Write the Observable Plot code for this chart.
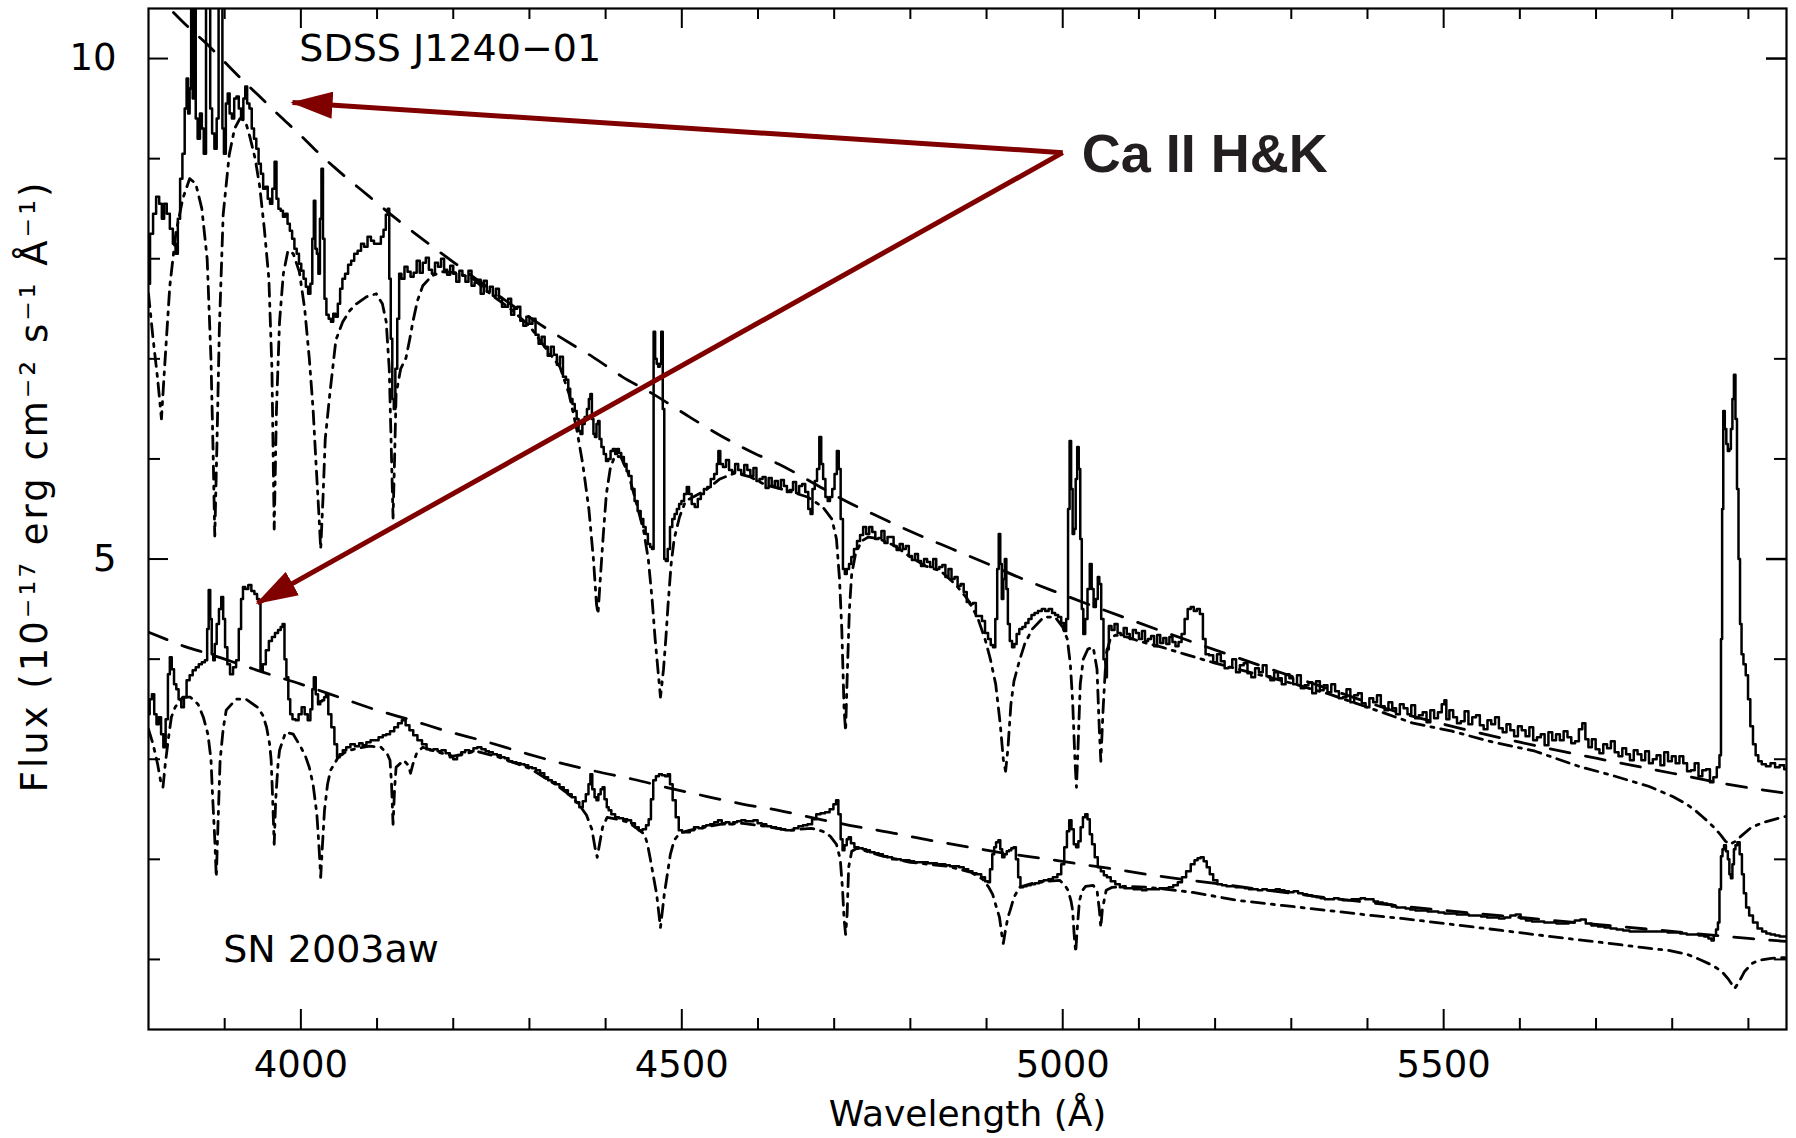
<!DOCTYPE html>
<html>
<head>
<meta charset="utf-8">
<script src="https://cdn.jsdelivr.net/npm/d3@7"></script>
<script src="https://cdn.jsdelivr.net/npm/@observablehq/plot@0.6"></script>
<style>
  html, body { margin: 0; padding: 0; background: #ffffff; }
  #chart { width: 1796px; height: 1138px; }
</style>
</head>
<body>
<div id="chart"></div>
<script>
// ---------------- tick values ----------------
const xTicksMajor = [4000, 4500, 5000, 5500];
const xTicksMinor = [3900, 4100, 4200, 4300, 4400, 4600, 4700, 4800, 4900, 5100, 5200, 5300, 5400, 5600, 5700, 5800, 5900];
const yTicksMajor = [5, 10];
const yTicksMinor = [1, 2, 3, 4, 6, 7, 8, 9];

// ---------------- series: [wavelength (Å), flux] ----------------
// SDSS J1240-01 observed spectrum (solid)
const sdssObserved = [
[3800,7.75],[3804,8.25],[3808,8.45],[3812,8.62],[3816,8.55],[3819,8.40],[3822,8.55],[3826,8.45],[3830,8.30],[3834,8.15],
[3837,8.05],[3840,8.40],[3843,8.80],[3846,9.05],[3849,9.50],[3851,9.80],[3853,9.45],[3855,9.70],[3857,10.6],[3859,9.60],
[3861,10.6],[3863,9.40],[3866,9.20],[3869,9.45],[3871,9.30],[3874,9.05],[3877,10.6],[3880,10.6],[3882,9.50],[3885,9.25],
[3888,9.10],[3891,9.40],[3893,10.6],[3896,10.6],[3898,9.30],[3900,9.05],[3903,9.55],[3905,9.65],[3908,9.45],[3911,9.40],
[3914,9.60],[3917,9.62],[3920,9.50],[3923,9.40],[3926,9.60],[3928,9.72],[3931,9.55],[3934,9.50],[3937,9.30],[3940,9.20],
[3943,9.10],[3946,8.95],[3949,8.85],[3952,8.70],[3955,8.72],[3958,8.60],[3961,8.55],[3964,8.70],[3967,8.97],[3969,8.60],
[3972,8.50],[3975,8.48],[3978,8.42],[3981,8.45],[3984,8.35],[3987,8.28],[3990,8.20],[3993,8.10],[3996,8.05],[3999,7.95],
[4002,7.88],[4005,7.80],[4008,7.72],[4011,7.65],[4014,7.75],[4016,8.20],[4018,8.58],[4020,8.10],[4022,8.05],[4024,7.85],
[4026,8.40],[4028,8.90],[4030,8.20],[4032,7.60],[4035,7.44],[4038,7.40],[4041,7.37],[4044,7.45],[4047,7.42],[4050,7.55],
[4053,7.70],[4056,7.80],[4060,7.85],[4064,7.94],[4068,7.98],[4072,8.05],[4077,8.08],[4081,8.15],[4085,8.12],[4090,8.22],
[4094,8.18],[4098,8.15],[4103,8.15],[4107,8.22],[4110,8.29],[4113,8.44],[4115,8.50],[4117,7.80],[4119,7.20],[4121,6.60],
[4123,6.50],[4125,6.90],[4128,7.40],[4130,7.85],[4134,7.80],[4138,7.92],[4142,7.87],[4146,7.82],[4150,7.86],[4154,7.98],
[4158,7.86],[4162,7.96],[4166,8.01],[4170,7.89],[4174,7.85],[4178,7.96],[4182,7.92],[4186,8.00],[4190,7.89],[4194,7.84],
[4198,7.93],[4202,7.85],[4206,7.77],[4210,7.88],[4214,7.83],[4218,7.77],[4222,7.88],[4226,7.73],[4230,7.76],[4234,7.79],
[4238,7.65],[4242,7.78],[4246,7.67],[4250,7.72],[4254,7.63],[4258,7.70],[4262,7.61],[4266,7.52],[4270,7.52],[4274,7.60],
[4278,7.44],[4282,7.50],[4286,7.52],[4290,7.38],[4294,7.33],[4298,7.42],[4302,7.35],[4306,7.40],[4310,7.24],[4314,7.15],
[4318,7.22],[4322,7.12],[4326,7.03],[4330,7.12],[4334,7.04],[4338,6.94],[4342,7.02],[4346,6.82],[4350,6.79],[4352,6.70],
[4355,6.60],[4358,6.55],[4361,6.48],[4363,6.40],
[4366,6.28],[4368,6.25],[4371,6.35],[4374,6.42],[4377,6.50],[4379,6.60],[4381,6.65],[4383,6.40],[4385,6.25],[4387,6.22],
[4389,6.35],[4391,6.38],[4393,6.20],[4396,6.12],[4399,6.05],[4402,5.98],[4405,6.00],[4408,6.08],[4411,6.10],[4414,6.05],
[4416,6.10],[4419,6.06],[4422,6.02],[4426,5.95],[4429,5.88],[4432,5.83],[4436,5.70],[4440,5.58],[4444,5.48],[4448,5.40],
[4451,5.32],[4454,5.25],[4457,5.15],[4460,5.12],[4462,5.10],[4464,7.27],[4466,7.00],[4468,6.95],[4470,6.92],[4472,6.95],
[4474,7.27],[4476,6.50],[4478,5.00],[4480,4.98],[4483,5.10],[4486,5.32],[4489,5.40],[4492,5.45],[4495,5.50],[4498,5.55],
[4501,5.58],[4505,5.65],[4508,5.72],[4511,5.65],[4515,5.55],[4519,5.52],[4523,5.60],[4527,5.65],[4531,5.70],[4536,5.72],
[4540,5.80],[4545,5.85],[4547,5.95],[4549,6.08],[4552,5.95],[4556,5.92],[4560,5.99],[4564,5.89],[4568,5.87],[4572,5.95],
[4576,5.89],[4580,5.85],[4584,5.94],[4588,5.89],[4592,5.83],[4596,5.91],[4600,5.78],[4604,5.80],[4608,5.82],[4612,5.71],
[4616,5.81],[4620,5.73],[4624,5.78],[4628,5.71],[4632,5.79],[4636,5.73],[4640,5.67],[4644,5.69],[4648,5.77],[4652,5.66],
[4656,5.73],[4660,5.75],[4664,5.67],
[4668,5.50],[4670,5.45],[4673,5.70],[4676,5.78],[4679,5.90],[4682,6.22],[4684,5.95],[4687,5.80],[4690,5.62],
[4693,5.58],[4696,5.62],[4699,5.70],[4702,5.85],[4705,6.08],[4707,5.90],[4710,5.40],[4713,4.90],[4715,4.85],[4718,4.90],
[4721,4.95],[4724,5.02],[4728,5.10],[4732,5.18],[4736,5.24],[4740,5.32],[4744,5.25],[4748,5.32],[4752,5.27],[4756,5.20],
[4760,5.21],[4764,5.28],[4768,5.16],[4772,5.22],[4776,5.22],[4780,5.13],[4784,5.09],[4788,5.15],[4792,5.10],[4796,5.13],
[4800,5.03],[4804,4.99],[4808,5.05],[4812,4.98],[4816,4.93],[4820,5.00],[4824,4.97],[4828,4.92],[4832,5.00],[4836,4.90],
[4840,4.92],[4844,4.94],[4848,4.82],[4852,4.90],[4856,4.80],[4860,4.82],[4864,4.73],[4868,4.75],[4872,4.67],[4876,4.57],
[4880,4.55],[4884,4.56],[4888,4.43],[4892,4.43],[4896,4.38],[4900,4.26],
[4904,4.20],[4907,4.14],[4910,4.12],[4913,4.40],[4915,4.90],[4917,5.25],[4919,4.95],[4921,4.60],
[4923,4.80],[4925,5.00],[4927,4.70],[4929,4.35],[4932,4.18],[4935,4.12],[4938,4.15],[4941,4.25],[4945,4.30],[4949,4.32],
[4953,4.36],[4957,4.40],[4961,4.44],[4965,4.46],[4970,4.48],[4975,4.50],[4979,4.48],[4984,4.50],[4988,4.46],[4992,4.44],
[4996,4.42],[5000,4.36],[5003,4.28],[5006,4.40],[5008,5.50],[5010,6.18],[5012,5.70],[5014,5.25],[5016,5.30],[5018,5.80],
[5020,6.12],[5022,5.90],[5024,5.20],[5026,4.50],[5028,4.25],[5031,4.40],[5034,4.70],[5037,4.95],[5039,4.70],[5042,4.52],
[5045,4.60],[5047,4.82],[5049,4.75],[5052,4.40],[5055,4.00],[5057,3.82],[5059,4.10],[5062,4.33],[5066,4.29],[5070,4.35],
[5074,4.26],[5078,4.24],[5082,4.31],[5086,4.25],[5090,4.20],[5094,4.29],[5098,4.26],[5102,4.20],[5106,4.28],[5110,4.18],
[5114,4.20],[5118,4.23],[5122,4.13],[5126,4.24],[5130,4.16],[5134,4.21],[5138,4.15],[5142,4.22],[5146,4.17],[5150,4.13],
[5154,4.17],[5158,4.25],
[5162,4.40],[5166,4.50],[5170,4.52],[5174,4.48],[5178,4.50],[5182,4.45],[5186,4.20],[5189,4.05],
[5195,4.04],[5200,3.97],[5205,4.05],[5210,3.98],[5215,3.91],[5220,3.92],[5225,4.00],[5230,3.87],[5235,3.94],[5240,3.96],
[5245,3.86],[5250,3.82],[5255,3.91],[5260,3.87],[5265,3.94],[5270,3.83],[5275,3.79],[5280,3.87],[5285,3.81],[5290,3.75],
[5295,3.85],[5300,3.81],[5305,3.75],[5310,3.84],[5315,3.71],[5320,3.74],[5325,3.77],[5330,3.66],[5335,3.78],[5340,3.69],
[5345,3.74],[5350,3.67],[5355,3.75],[5360,3.68],[5365,3.61],[5370,3.62],[5375,3.70],[5380,3.57],[5385,3.64],[5390,3.66],
[5395,3.56],[5400,3.52],[5405,3.61],[5410,3.57],[5415,3.64],[5420,3.53],[5425,3.49],[5430,3.57],[5435,3.51],[5440,3.45],
[5445,3.55],[5450,3.51],[5455,3.45],[5460,3.54],[5465,3.41],[5470,3.44],[5475,3.47],[5480,3.37],[5485,3.49],[5490,3.41],
[5495,3.47],[5500,3.55],[5502,3.59],[5505,3.40],[5510,3.49],[5515,3.42],[5520,3.36],[5525,3.38],[5530,3.48],[5535,3.35],
[5540,3.42],[5545,3.44],[5550,3.34],[5555,3.30],[5560,3.39],[5565,3.35],[5570,3.42],[5575,3.31],[5580,3.27],[5585,3.35],
[5590,3.29],[5595,3.23],[5600,3.33],[5605,3.29],[5610,3.23],[5615,3.32],[5620,3.19],[5625,3.22],[5630,3.25],[5635,3.14],
[5640,3.27],[5645,3.19],[5650,3.25],[5655,3.19],[5660,3.28],[5665,3.22],[5670,3.16],[5675,3.18],[5680,3.30],[5684,3.36],
[5688,3.20],[5692,3.12],[5697,3.20],[5702,3.10],[5707,3.06],[5712,3.15],[5717,3.11],[5722,3.18],[5727,3.07],[5732,3.03],
[5737,3.11],[5742,3.05],[5747,2.99],[5752,3.09],[5757,3.05],[5762,2.99],[5767,3.08],[5772,2.96],[5777,3.00],[5782,3.04],
[5787,2.94],[5792,3.07],[5797,2.98],[5802,3.03],[5807,2.96],[5812,3.03],[5817,2.96],[5822,2.88],[5827,2.89],[5832,2.96],
[5837,2.83],[5842,2.89],[5847,2.90],[5852,2.77],[5856,2.82],
[5861,2.92],[5863,3.04],
[5865,4.20],[5866,5.50],[5868,6.48],[5870,6.30],[5872,6.15],[5874,6.08],[5876,6.10],[5878,6.30],[5880,6.60],[5882,6.84],
[5884,6.40],[5886,5.70],[5888,5.00],[5890,4.35],[5892,4.05],[5895,3.95],[5898,3.84],[5901,3.60],[5904,3.33],[5908,3.15],
[5911,3.04],[5915,2.98],[5920,2.95],[5926,2.93],[5932,2.96],[5938,2.92],[5944,2.94],[5950,2.90]
];

// SDSS J1240-01 continuum (dashed)
const sdssContinuum = [
[3800,10.72],[3829,10.49],[3850,10.33],[3876,10.15],[3898,9.98],[3920,9.81],[3946,9.62],[3976,9.40],[4000,9.23],[4020,9.08],
[4046,8.90],[4090,8.62],[4125,8.40],[4173,8.12],[4212,7.90],[4260,7.63],[4313,7.35],[4361,7.12],[4383,7.02],[4422,6.82],
[4462,6.65],[4510,6.42],[4554,6.22],[4597,6.05],[4627,5.95],[4670,5.77],[4715,5.58],[4762,5.41],[4808,5.25],[4855,5.10],
[4902,4.95],[4948,4.80],[4995,4.66],[5040,4.53],[5083,4.41],[5130,4.28],[5171,4.17],[5250,3.96],[5300,3.83],[5350,3.70],
[5400,3.57],[5440,3.47],[5500,3.35],[5600,3.17],[5700,3.01],[5800,2.86],[5865,2.76],[5913,2.70],[5950,2.66]
];

// SDSS J1240-01 model with He I absorption (dash-dot)
const sdssModel = [
[3800,7.65],[3806,7.20],[3812,6.80],[3817,6.40],[3821,6.90],[3828,7.73],[3836,8.26],[3845,8.60],[3854,8.80],[3862,8.75],
[3870,8.50],[3877,8.00],[3882,7.00],[3885,6.00],[3887,5.23],[3890,6.20],[3893,7.30],[3898,8.44],[3906,9.04],[3913,9.30],
[3920,9.40],[3927,9.38],[3933,9.22],[3940,9.00],[3946,8.72],[3952,8.30],[3958,7.80],[3962,6.90],[3965,5.30],[3968,6.50],
[3972,7.37],[3977,7.85],[3983,8.08],[3990,8.05],[3998,7.87],[4005,7.50],[4011,7.01],[4016,6.50],[4020,5.94],[4024,5.40],
[4026,5.10],[4029,5.60],[4032,6.20],[4038,6.65],[4046,7.19],[4055,7.37],[4064,7.48],[4073,7.55],[4086,7.62],[4099,7.65],
[4107,7.55],[4112,7.37],[4116,6.90],[4118,6.30],[4121,5.41],[4123,6.00],[4125,6.65],[4131,6.90],[4138,7.01],[4143,7.20],
[4147,7.37],[4153,7.58],[4160,7.73],[4172,7.83],[4186,7.87],[4205,7.86],[4226,7.80],[4250,7.64],[4275,7.50],[4300,7.33],
[4320,7.12],[4340,6.92],[4352,6.65],[4362,6.30],[4370,5.95],[4378,5.50],[4384,5.00],[4388,4.55],[4390,4.45],[4393,4.80],
[4397,5.25],[4401,5.65],[4406,5.90],[4412,6.03],[4420,6.02],[4430,5.85],[4440,5.57],[4450,5.28],[4456,5.00],[4461,4.60],
[4465,4.20],[4468,3.95],[4472,3.62],[4476,3.90],[4479,4.20],[4482,4.55],[4486,4.95],[4490,5.20],[4497,5.42],[4505,5.58],
[4515,5.62],[4530,5.68],[4550,5.80],[4570,5.86],[4590,5.82],[4610,5.74],[4640,5.68],[4665,5.62],[4685,5.52],[4697,5.40],
[4703,5.20],[4707,4.80],[4710,4.30],[4713,3.50],[4715,3.28],[4717,3.80],[4720,4.50],[4723,4.85],[4728,5.05],[4736,5.18],
[4745,5.22],[4760,5.20],[4780,5.13],[4800,5.02],[4820,4.93],[4840,4.88],[4860,4.74],[4875,4.60],[4888,4.42],[4898,4.20],
[4905,4.00],[4912,3.75],[4918,3.35],[4922,3.00],[4925,2.88],[4928,3.10],[4932,3.55],[4936,3.78],[4943,3.98],[4950,4.15],
[4960,4.30],[4975,4.42],[4990,4.42],[5000,4.32],[5006,4.20],[5010,3.95],[5013,3.58],[5016,3.00],[5018,2.72],[5020,3.10],
[5023,3.75],[5027,4.00],[5033,4.10],[5040,4.12],[5045,3.90],[5048,3.30],[5050,2.98],[5053,3.50],[5057,4.05],[5063,4.22],
[5070,4.24],[5085,4.22],[5100,4.18],[5130,4.12],[5160,4.05],[5200,3.96],[5250,3.86],[5300,3.76],[5350,3.65],[5400,3.52],
[5460,3.36],[5511,3.28],[5560,3.18],[5620,3.08],[5681,2.92],[5716,2.85],[5769,2.73],[5800,2.63],[5817,2.56],[5830,2.49],
[5839,2.43],[5848,2.37],[5856,2.31],[5864,2.24],[5870,2.18],[5876,2.15],[5883,2.18],[5890,2.23],[5904,2.32],[5920,2.37],
[5939,2.41],[5950,2.43]
];

// SN 2003aw observed spectrum (solid)
const snObserved = [
[3800,3.45],[3803,3.60],[3806,3.65],[3809,3.45],[3812,3.35],[3815,3.42],[3818,3.25],[3821,3.12],[3824,3.40],[3827,3.85],
[3829,4.02],[3832,3.90],[3835,3.75],[3838,3.70],[3841,3.60],[3845,3.52],[3848,3.62],[3852,3.79],[3856,3.84],[3860,3.89],
[3864,3.92],[3868,3.95],[3872,3.97],[3876,3.99],[3878,4.30],[3880,4.69],[3882,4.40],[3884,4.05],[3886,3.99],[3888,4.15],
[3891,4.35],[3894,4.50],[3897,4.62],[3899,4.40],[3902,4.12],[3905,3.95],[3909,3.85],[3913,3.92],[3917,3.99],[3920,4.30],
[3923,4.60],[3925,4.72],[3929,4.70],[3933,4.74],[3937,4.68],[3941,4.65],[3944,4.60],[3946,4.58],[3948,3.89],[3952,3.95],
[3956,4.09],[3960,4.18],[3964,4.22],[3968,4.26],[3972,4.29],[3975,4.32],[3977,4.35],[3980,4.00],[3982,3.82],[3985,3.60],
[3987,3.45],[3991,3.40],[3995,3.39],[3999,3.45],[4003,3.52],[4007,3.45],[4011,3.39],[4014,3.50],[4016,3.70],[4018,3.82],
[4021,3.65],[4024,3.55],[4027,3.58],[4029,3.59],[4032,3.62],[4034,3.65],[4038,3.45],[4042,3.32],[4046,3.15],[4049,3.02],
[4053,3.05],[4057,3.09],[4062,3.12],[4068,3.15],[4074,3.13],[4079,3.16],[4083,3.14],[4089,3.17],[4094,3.19],[4099,3.19],
[4105,3.22],[4110,3.24],[4114,3.25],[4120,3.28],[4125,3.32],[4130,3.36],[4135,3.39],[4140,3.34],[4145,3.29],[4150,3.24],
[4156,3.19],[4162,3.15],[4168,3.10],[4171,3.09],[4177,3.10],[4182,3.08],[4187,3.09],[4193,3.06],[4198,3.02],[4202,3.00],
[4208,3.04],[4213,3.07],[4218,3.09],[4224,3.08],[4229,3.11],[4234,3.12],[4240,3.10],[4245,3.08],[4249,3.07],[4255,3.05],
[4260,3.04],[4265,3.02],[4270,3.01],[4275,2.98],[4280,2.97],[4286,2.96],[4291,2.95],[4296,2.94],[4301,2.92],[4306,2.91],
[4311,2.89],[4317,2.86],[4322,2.82],[4327,2.79],[4332,2.77],[4337,2.75],[4342,2.72],[4348,2.69],[4353,2.65],[4358,2.62],
[4363,2.57],[4368,2.52],[4372,2.58],[4376,2.65],[4379,2.75],[4381,2.85],[4384,2.70],[4387,2.62],[4389,2.59],[4392,2.65],
[4395,2.70],[4397,2.72],[4400,2.60],[4403,2.52],[4405,2.49],[4410,2.45],[4415,2.42],[4420,2.41],[4426,2.40],[4431,2.39],
[4436,2.36],[4441,2.32],[4446,2.29],[4451,2.30],[4455,2.34],[4458,2.40],[4461,2.60],[4464,2.79],[4468,2.83],[4472,2.85],
[4476,2.84],[4480,2.83],[4483,2.85],[4486,2.75],[4490,2.59],[4494,2.42],[4498,2.29],[4503,2.27],[4508,2.27],[4513,2.29],
[4519,2.32],[4525,2.31],[4530,2.33],[4534,2.34],[4540,2.35],[4545,2.37],[4550,2.39],[4555,2.36],[4560,2.37],[4565,2.35],
[4570,2.37],[4575,2.38],[4581,2.39],[4586,2.38],[4591,2.38],[4597,2.39],[4602,2.36],[4608,2.35],[4614,2.33],[4621,2.32],
[4627,2.31],[4633,2.30],[4639,2.29],[4644,2.29],[4650,2.31],[4656,2.33],[4662,2.34],[4668,2.35],[4674,2.40],[4679,2.45],
[4685,2.46],[4691,2.47],[4697,2.50],[4701,2.55],[4704,2.59],[4707,2.45],[4710,2.20],[4712,2.09],[4715,2.14],[4718,2.20],
[4720,2.22],[4724,2.16],[4729,2.12],[4735,2.11],[4740,2.10],[4744,2.09],[4750,2.07],[4756,2.06],[4761,2.05],[4767,2.03],
[4773,2.02],[4779,2.00],[4785,2.00],[4790,1.99],[4796,1.99],[4802,1.98],[4808,1.97],[4814,1.97],[4820,1.97],[4826,1.96],
[4832,1.96],[4838,1.95],[4843,1.95],[4849,1.94],[4855,1.93],[4861,1.93],[4867,1.92],[4873,1.90],[4879,1.88],[4884,1.86],
[4890,1.85],[4896,1.82],[4900,1.78],[4903,1.77],[4906,1.90],[4909,2.05],[4911,2.12],[4914,2.17],[4917,2.19],[4919,2.10],
[4922,2.02],[4925,2.05],[4928,2.08],[4931,2.09],[4934,2.11],[4937,2.12],[4940,2.00],[4943,1.82],[4946,1.72],[4950,1.73],
[4955,1.74],[4961,1.75],[4966,1.76],[4972,1.78],[4978,1.79],[4984,1.80],[4990,1.82],[4996,1.85],[5000,1.95],[5004,2.12],
[5007,2.28],[5010,2.39],[5013,2.30],[5016,2.15],[5019,2.12],[5022,2.18],[5025,2.32],[5028,2.42],[5031,2.45],[5034,2.40],
[5037,2.25],[5040,2.15],[5044,2.02],[5048,1.92],[5052,1.88],[5056,1.84],[5060,1.82],[5066,1.78],[5072,1.75],[5078,1.72],
[5084,1.71],[5090,1.71],[5096,1.70],[5101,1.70],[5107,1.69],[5113,1.70],[5119,1.70],[5124,1.70],[5130,1.71],[5136,1.71],
[5142,1.72],[5148,1.74],[5154,1.77],[5159,1.82],[5165,1.88],[5171,1.95],[5175,1.99],[5179,2.01],[5183,2.02],[5187,1.98],
[5191,1.92],[5195,1.85],[5200,1.79],[5206,1.75],[5212,1.74],[5218,1.73],[5224,1.73],[5230,1.72],[5236,1.72],[5242,1.71],
[5247,1.70],[5253,1.70],[5259,1.69],[5265,1.70],[5271,1.69],[5277,1.69],[5282,1.70],[5288,1.69],[5294,1.68],[5300,1.67],
[5306,1.68],[5312,1.66],[5318,1.65],[5324,1.64],[5330,1.63],[5336,1.62],[5341,1.61],[5347,1.60],[5353,1.60],[5359,1.61],
[5365,1.60],[5370,1.59],[5376,1.59],[5382,1.60],[5388,1.60],[5394,1.61],[5400,1.60],[5405,1.60],[5411,1.58],[5417,1.57],
[5423,1.56],[5429,1.55],[5435,1.53],[5441,1.52],[5447,1.52],[5453,1.51],[5459,1.50],[5467,1.49],[5475,1.49],[5483,1.48],
[5489,1.48],[5497,1.47],[5505,1.46],[5513,1.46],[5521,1.45],[5529,1.45],[5537,1.44],[5545,1.44],[5553,1.43],[5561,1.42],
[5569,1.42],[5576,1.41],[5584,1.42],[5591,1.44],[5598,1.45],[5604,1.41],[5612,1.39],[5620,1.38],[5628,1.38],[5636,1.37],
[5644,1.37],[5652,1.36],[5660,1.36],[5668,1.37],[5676,1.39],[5683,1.40],[5690,1.36],[5698,1.34],[5707,1.33],[5715,1.32],
[5723,1.31],[5731,1.30],[5740,1.29],[5748,1.28],[5756,1.28],[5765,1.28],[5773,1.28],[5782,1.28],[5790,1.28],[5798,1.27],
[5806,1.27],[5815,1.26],[5823,1.25],[5831,1.25],[5839,1.24],[5845,1.23],[5850,1.21],[5853,1.19],[5856,1.24],[5859,1.30],
[5861,1.37],[5863,1.70],[5865,2.03],[5867,2.10],[5869,2.14],[5872,2.08],[5874,2.00],[5876,1.85],[5878,1.81],[5880,1.95],
[5882,2.10],[5884,2.14],[5887,2.17],[5890,2.05],[5893,1.85],[5895,1.66],[5899,1.52],[5903,1.44],[5909,1.37],[5915,1.31],
[5921,1.28],[5926,1.26],[5932,1.25],[5938,1.24],[5944,1.23],[5950,1.23]
];

// SN 2003aw continuum (dashed)
const snContinuum = [
[3800,4.27],[3826,4.19],[3850,4.12],[3876,4.06],[3900,4.00],[3950,3.87],[4000,3.75],[4050,3.62],[4096,3.50],[4145,3.39],
[4192,3.28],[4241,3.18],[4290,3.07],[4337,2.97],[4387,2.88],[4436,2.80],[4485,2.71],[4532,2.63],[4581,2.55],[4627,2.49],
[4675,2.41],[4720,2.34],[4779,2.26],[4826,2.19],[4879,2.12],[4925,2.06],[4972,2.01],[5025,1.95],[5078,1.89],[5119,1.84],
[5200,1.76],[5300,1.66],[5400,1.57],[5500,1.49],[5600,1.42],[5700,1.35],[5800,1.28],[5900,1.21],[5950,1.18]
];

// SN 2003aw model with He I absorption (dash-dot)
const snModel = [
[3800,3.30],[3806,3.15],[3812,2.95],[3816,2.78],[3819,2.72],[3822,2.95],[3826,3.20],[3830,3.42],[3835,3.52],[3845,3.62],
[3855,3.62],[3865,3.55],[3872,3.42],[3878,3.25],[3882,3.00],[3884,2.65],[3887,2.20],[3889,1.82],[3891,2.30],[3894,2.99],
[3898,3.30],[3902,3.49],[3915,3.60],[3928,3.60],[3943,3.52],[3950,3.44],[3955,3.32],[3959,3.15],[3961,2.99],[3963,2.60],
[3965,2.15],[3967,2.60],[3970,2.95],[3972,3.09],[3980,3.27],[3990,3.25],[4000,3.12],[4006,3.03],[4011,2.92],[4016,2.75],
[4021,2.45],[4024,2.10],[4026,1.82],[4028,2.10],[4031,2.49],[4035,2.75],[4039,2.89],[4049,3.02],[4060,3.08],[4075,3.11],
[4090,3.13],[4105,3.12],[4113,3.06],[4117,2.99],[4119,2.75],[4121,2.35],[4123,2.70],[4125,2.92],[4135,2.99],[4141,2.94],
[4144,2.86],[4147,2.95],[4152,3.06],[4160,3.12],[4180,3.07],[4200,3.03],[4230,3.08],[4260,3.02],[4300,2.91],[4330,2.77],
[4350,2.66],[4365,2.55],[4375,2.44],[4382,2.30],[4386,2.12],[4389,2.02],[4392,2.15],[4396,2.32],[4402,2.42],[4415,2.40],
[4430,2.37],[4441,2.31],[4451,2.25],[4455,2.15],[4459,1.99],[4463,1.82],[4467,1.65],[4470,1.45],[4472,1.32],[4474,1.45],
[4477,1.65],[4481,1.85],[4485,2.05],[4490,2.19],[4497,2.26],[4510,2.29],[4530,2.32],[4550,2.35],[4580,2.36],[4610,2.33],
[4640,2.29],[4670,2.31],[4685,2.28],[4695,2.23],[4703,2.15],[4708,2.00],[4711,1.70],[4713,1.40],[4715,1.25],[4717,1.45],
[4719,1.92],[4723,2.08],[4730,2.11],[4760,2.04],[4800,1.97],[4850,1.93],[4880,1.87],[4895,1.80],[4903,1.72],[4908,1.65],
[4913,1.52],[4917,1.42],[4920,1.25],[4922,1.16],[4925,1.30],[4928,1.42],[4931,1.49],[4936,1.62],[4943,1.72],[4960,1.76],
[4980,1.78],[4996,1.79],[5003,1.74],[5007,1.69],[5011,1.58],[5013,1.49],[5015,1.25],[5017,1.07],[5019,1.30],[5022,1.59],
[5026,1.69],[5030,1.73],[5040,1.74],[5045,1.69],[5048,1.50],[5050,1.32],[5052,1.50],[5057,1.69],[5065,1.72],[5080,1.73],
[5113,1.72],[5171,1.67],[5230,1.59],[5288,1.54],[5347,1.49],[5405,1.44],[5445,1.41],[5500,1.36],[5576,1.29],[5650,1.22],
[5707,1.17],[5760,1.12],[5795,1.09],[5820,1.05],[5839,0.99],[5853,0.94],[5865,0.88],[5874,0.80],[5882,0.71],[5888,0.78],
[5895,0.88],[5905,0.96],[5913,0.99],[5930,1.01],[5950,1.02]
];

// ---------------- annotations (data coordinates) ----------------
const seriesLabels = [
  {text: "SDSS J1240\u221201", w: 3998, f: 9.98},
  {text: "SN 2003aw", w: 3898, f: 0.97}
];
const calloutLabel = [{text: "Ca II H&K", w: 5025, f: 8.87}];
const calloutArrows = [
  {w1: 5000, f1: 9.06, w2: 3989, f2: 9.56},
  {w1: 5000, f1: 9.06, w2: 3943, f2: 4.56}
];
const yAxisLabel = [{text: "Flux (10\u207B\u00B9\u2077 erg cm\u207B\u00B2 s\u207B\u00B9 \u00C5\u207B\u00B9)", f: 5.73}];
const xAxisLabel = ["Wavelength (\u00C5)"];

// ---------------- layout ----------------
const W = 1796, H = 1138;
const mL = 148, mR = 10, mT = 8, mB = 109;
const frameH = H - mT - mB, frameW = W - mL - mR;
const rows = arr => arr.map(([w, f]) => ({w, f}));
const dash = "20,16";
const dashDot = "13,7,3,7";

const svg = Plot.plot({
  width: W, height: H,
  marginLeft: mL, marginRight: mR, marginTop: mT, marginBottom: mB,
  style: {fontFamily: "DejaVu Sans", background: "#ffffff", color: "#000000"},
  x: {domain: [3800, 5950]},
  y: {domain: [0.3, 10.5]},
  marks: [
    // ticks (inward, on all four sides)
    Plot.ruleX(xTicksMinor, {insetTop: frameH - 11, stroke: "black", strokeWidth: 2}),
    Plot.ruleX(xTicksMinor, {insetBottom: frameH - 11, stroke: "black", strokeWidth: 2}),
    Plot.ruleX(xTicksMajor, {insetTop: frameH - 20, stroke: "black", strokeWidth: 2}),
    Plot.ruleX(xTicksMajor, {insetBottom: frameH - 20, stroke: "black", strokeWidth: 2}),
    Plot.ruleY(yTicksMinor, {insetRight: frameW - 12, stroke: "black", strokeWidth: 2}),
    Plot.ruleY(yTicksMinor, {insetLeft: frameW - 12, stroke: "black", strokeWidth: 2}),
    Plot.ruleY(yTicksMajor, {insetRight: frameW - 20, stroke: "black", strokeWidth: 2}),
    Plot.ruleY(yTicksMajor, {insetLeft: frameW - 20, stroke: "black", strokeWidth: 2.5}),
    Plot.axisX({ticks: xTicksMajor, tickSize: 0, tickPadding: 21, fontSize: 37, tickFormat: d => String(d), label: null}),
    Plot.axisY({ticks: yTicksMajor, tickSize: 0, tickPadding: 32, fontSize: 37, tickFormat: d => String(d), label: null}),

    // continua (dashed)
    Plot.line(rows(sdssContinuum), {x: "w", y: "f", stroke: "black", strokeWidth: 2.8, strokeDasharray: dash, curve: "monotone-x", clip: true}),
    Plot.line(rows(snContinuum), {x: "w", y: "f", stroke: "black", strokeWidth: 2.8, strokeDasharray: dash, curve: "monotone-x", clip: true}),
    // models (dash-dot)
    Plot.line(rows(sdssModel), {x: "w", y: "f", stroke: "black", strokeWidth: 2.8, strokeDasharray: dashDot, curve: "linear", clip: true}),
    Plot.line(rows(snModel), {x: "w", y: "f", stroke: "black", strokeWidth: 2.8, strokeDasharray: dashDot, curve: "linear", clip: true}),
    // observed spectra (solid, histogram style)
    Plot.line(rows(sdssObserved), {x: "w", y: "f", stroke: "black", strokeWidth: 2.5, curve: "step", clip: true}),
    Plot.line(rows(snObserved), {x: "w", y: "f", stroke: "black", strokeWidth: 2.5, curve: "step", clip: true}),

    Plot.frame({stroke: "black", strokeWidth: 2.2}),

    // text labels
    Plot.text(seriesLabels, {x: "w", y: "f", text: "text", textAnchor: "start", lineAnchor: "bottom", fontSize: 38, fill: "black"}),
    Plot.text(yAxisLabel, {y: "f", text: "text", frameAnchor: "left", dx: -102, rotate: -90, textAnchor: "middle", lineAnchor: "bottom", fontSize: 37, fill: "black", ariaDescription: "ylabel"}),
    Plot.text(xAxisLabel, {text: d => d, frameAnchor: "bottom", dy: 96, textAnchor: "middle", lineAnchor: "bottom", fontSize: 36, fill: "black"}),

    // callout
    Plot.link(calloutArrows, {x1: "w1", y1: "f1", x2: "w2", y2: "f2", stroke: "#800000", strokeWidth: 5, strokeLinecap: "butt"}),
    Plot.text(calloutLabel, {x: "w", y: "f", text: "text", textAnchor: "start", lineAnchor: "bottom", fontSize: 54, fontWeight: "bold", fontFamily: "Liberation Sans", fill: "#231f20"})
  ]
});

// filled arrowheads for the callout links
const ns = "http://www.w3.org/2000/svg";
const defs = document.createElementNS(ns, "defs");
const marker = document.createElementNS(ns, "marker");
marker.setAttribute("id", "cahk-head");
marker.setAttribute("markerUnits", "userSpaceOnUse");
marker.setAttribute("viewBox", "0 0 42 27");
marker.setAttribute("markerWidth", "42");
marker.setAttribute("markerHeight", "27");
marker.setAttribute("refX", "40");
marker.setAttribute("refY", "13.5");
marker.setAttribute("orient", "auto");
const head = document.createElementNS(ns, "path");
head.setAttribute("d", "M0,0 L42,13.5 L0,27 Z");
head.setAttribute("fill", "#800000");
marker.appendChild(head);
defs.appendChild(marker);
svg.insertBefore(defs, svg.firstChild);
svg.querySelectorAll('g[aria-label="link"] path').forEach(p => p.setAttribute("marker-end", "url(#cahk-head)"));
svg.querySelectorAll('g[aria-description="ylabel"] text').forEach(t => t.setAttribute("letter-spacing", "3"));

document.getElementById("chart").appendChild(svg);
</script>
</body>
</html>
